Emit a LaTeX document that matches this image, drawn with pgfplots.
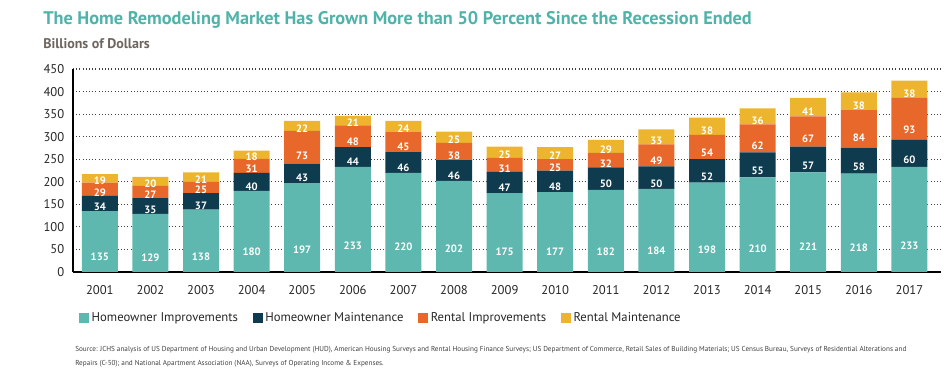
\documentclass[border=0pt]{standalone}
\usepackage{pgfplots}
\pgfplotsset{compat=1.18}
\usepackage{pgfplotstable}
\usepackage{fontspec}
\setmainfont{PT Sans}
\definecolor{cHI}{HTML}{5EB8B0}
\definecolor{cHM}{HTML}{0E3B4D}
\definecolor{cRI}{HTML}{E8672B}
\definecolor{cRM}{HTML}{EDB52E}
\definecolor{cTitle}{HTML}{4FB3A9}
\definecolor{cSub}{HTML}{6E645F}
\pgfplotstableread{
x year hi hm ri rm tot z
0 2001 135 34 29 19 217 0
1 2002 129 35 27 20 211 0
2 2003 138 37 25 21 221 0
3 2004 180 40 31 18 269 0
4 2005 197 43 73 22 335 0
5 2006 233 44 48 21 346 0
6 2007 220 46 45 24 335 0
7 2008 202 46 38 25 311 0
8 2009 175 47 31 25 278 0
9 2010 177 48 25 27 277 0
10 2011 182 50 32 29 293 0
11 2012 184 50 49 33 316 0
12 2013 198 52 54 38 342 0
13 2014 210 55 62 36 363 0
14 2015 221 57 67 41 386 0
15 2016 218 58 84 38 398 0
16 2017 233 60 93 38 424 0
}\data
\begin{document}
\begin{tikzpicture}
\useasboundingbox (-54.75pt,-79.5pt) rectangle (658.5pt,204pt);
\begin{axis}[
  at={(0pt,0pt)}, anchor=south west,
  x=37.95pt, y=0.3383pt,
  xmin=-0.53, xmax=16.63, ymin=0, ymax=450,
  ybar stacked, bar width=27pt,
  axis x line*=bottom, axis y line*=left,
  x axis line style={line width=1.5pt},
  y axis line style={line width=1pt},
  ymajorgrids, grid style={dotted, line width=0.8pt, black!75},
  ytick={0,50,...,450},
  xtick=data, xticklabels from table={\data}{year},
  major tick length=0pt,
  tick label style={font=\fontsize{9.5}{11}\selectfont, black!85},
  xticklabel style={yshift=-6.5pt},
  yticklabel style={xshift=-3pt},
  /pgf/number format/assume math mode=true,
  point meta=explicit symbolic,
  nodes near coords,
  every node near coord/.style={font=\bfseries\fontsize{8}{9}\selectfont, white, anchor=center, yshift=-0.25*\pgfplotspointmeta*0.3383pt},
  legend columns=4,
  legend image code/.code={\fill[#1,draw=none] (0pt,-3.75pt) rectangle (7.5pt,3.75pt);},
  legend style={at={(0.002,-0.227)}, anchor=west, draw=none, fill=none,
    font=\fontsize{9.5}{11}\selectfont, text=black!85,
    /tikz/every even column/.append style={column sep=9pt}},
]
\addplot[fill=cHI, draw=none] table[x=x, y=hi, meta=hi] {\data};
\addplot[fill=cHM, draw=none] table[x=x, y=hm, meta=hm] {\data};
\addplot[fill=cRI, draw=none] table[x=x, y=ri, meta=ri] {\data};
\addplot[fill=cRM, draw=none] table[x=x, y=rm, meta=rm] {\data};
\addplot[fill=none, draw=none, forget plot,
  every node near coord/.style={font=\bfseries\fontsize{8}{9}\selectfont, black, anchor=south, inner sep=1.5pt}]
  table[x=x, y=z, meta=tot] {\data};
\legend{Homeowner Improvements, Homeowner Maintenance, Rental Improvements, Rental Maintenance}
\end{axis}
\node[anchor=west, inner sep=0pt, text=cTitle, font=\bfseries\fontsize{13.7}{15}\selectfont] at (-22.5pt,189pt) {The Home Remodeling Market Has Grown More than 50 Percent Since the Recession Ended};
\node[anchor=west, inner sep=0pt, text=cSub, font=\bfseries\fontsize{10.5}{12}\selectfont] at (-22.5pt,171pt) {Billions of Dollars};
\node[anchor=north west, inner sep=0pt, align=left, text=black!75, font=\fontsize{5.4}{10.5}\selectfont] at (1.5pt,-55.5pt) {Source: JCHS analysis of US Department of Housing and Urban Development (HUD), American Housing Surveys and Rental Housing Finance Surveys; US Department of Commerce, Retail Sales of Building Materials; US Census Bureau, Surveys of Residential Alterations and\\Repairs (C-50); and National Apartment Association (NAA), Surveys of Operating Income \& Expenses.};
\end{tikzpicture}
\end{document}
